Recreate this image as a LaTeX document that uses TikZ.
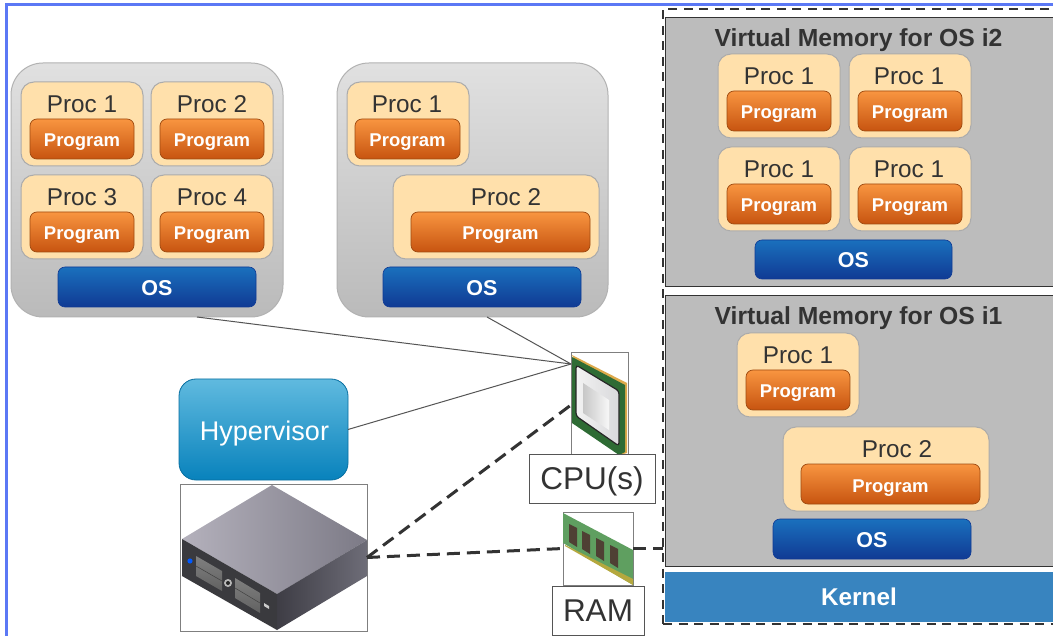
\documentclass[tikz,border=0pt]{standalone}
\usepackage{fontspec}
\setmainfont{Liberation Sans}
\usetikzlibrary{calc}
\definecolor{inkc}{HTML}{333333}
\definecolor{framec}{HTML}{7F7F7F}
\definecolor{edgec}{HTML}{555555}
\definecolor{procfill}{HTML}{FFE0AB}
\definecolor{progedge}{HTML}{9E4A10}
\definecolor{progtop}{HTML}{F89540}
\definecolor{progbot}{HTML}{C75410}
\definecolor{ostop}{HTML}{1A70BD}
\definecolor{osbot}{HTML}{103A94}
\definecolor{vmfill}{HTML}{BCBCBC}
\definecolor{kernelc}{HTML}{3884BF}
\definecolor{hyptop}{HTML}{60BADF}
\definecolor{hypbot}{HTML}{0882BC}
\definecolor{pageb}{HTML}{5B78F5}
\definecolor{srvtopa}{HTML}{B4B1BC}
\definecolor{srvtopb}{HTML}{7C7A86}
\definecolor{srvfront}{HTML}{3A3A3E}
\definecolor{srvsidea}{HTML}{3E3D45}
\definecolor{srvsideb}{HTML}{6E6D78}
\definecolor{cpugreen}{HTML}{2E6B34}
\definecolor{cpugold}{HTML}{DDA94A}
\definecolor{ramgreen}{HTML}{5F9F60}
\definecolor{ramgold}{HTML}{B5A83E}
\definecolor{ramchip}{HTML}{4F4034}
\tikzset{
 x=1pt,y=-1pt,
 boxb/.style={inner sep=0pt,outer sep=0pt,rounded corners=#1},
 boxb/.default=8pt,
 panelbox/.style={boxb=32pt,draw=black!30,line width=1pt,top color=black!12,bottom color=black!27},
 procbox/.style={boxb=13pt,draw=black!33,line width=1pt,fill=procfill},
 progbox/.style={boxb=7pt,draw=progedge,line width=.7pt,top color=progtop,bottom color=progbot,text=white,text height=16pt,text depth=0pt,font=\fontsize{18.5}{20}\selectfont\bfseries},
 osbox/.style={boxb=7pt,draw=osbot,line width=.6pt,top color=ostop,bottom color=osbot,text=white,text height=17pt,text depth=0pt,font=\fontsize{21.5}{23}\selectfont\bfseries},
 proclabel/.style={text=inkc,inner sep=0pt,font=\fontsize{24.3}{26}\selectfont},
 vmbox/.style={inner sep=0pt,outer sep=0pt,draw=inkc,line width=1pt,fill=vmfill},
 vmtitle/.style={text=inkc,inner sep=0pt,font=\fontsize{24.7}{27}\selectfont\bfseries},
 framebox/.style={inner sep=0pt,outer sep=0pt,draw=framec,line width=1pt},
 capbox/.style={framebox,draw=edgec,fill=white,text=inkc,text height=22pt,text depth=0pt,font=\fontsize{31.5}{33}\selectfont},
 thinlink/.style={draw=edgec,line width=1pt},
 dashlink/.style={draw=inkc,line width=3pt,dash pattern=on 13pt off 7pt},
 dashouter/.style={draw=inkc,line width=2.6pt,dash pattern=on 9pt off 6.5pt},
}
% box from corners: name, x1, y1, x2, y2, style, text
\newcommand{\cornerbox}[7]{\node[#6,minimum width={((#4)-(#2))*1pt},minimum height={((#5)-(#3))*1pt}] (#1) at ({((#2)+(#4))/2},{((#3)+(#5))/2}) {#7};}
% proc: name, x1, y1, x2, label-x, program-x1, text
\newcommand{\procunit}[7]{%
 \cornerbox{#1}{#2}{#3}{#4}{#3+84}{procbox}{}
 \node[proclabel] (#1l) at (#5,#3+22) {#7};
 \cornerbox{#1p}{#6}{#3+37}{#4-9}{#3+77}{progbox}{Program}
}
\begin{document}
\begin{tikzpicture}
\useasboundingbox (0,0) rectangle (1053,636);
\fill[white] (0,0) rectangle (1053,636);
\fill[pageb] (5,3) rectangle (1053,6);
\fill[pageb] (5,3) rectangle (8,636);

% left panels
\cornerbox{pa}{11}{63}{283}{317}{panelbox}{}
\procunit{pa1}{21}{82}{143}{82}{30}{Proc 1}
\procunit{pa2}{151}{82}{273}{212}{160}{Proc 2}
\procunit{pa3}{21}{175}{143}{82}{30}{Proc 3}
\procunit{pa4}{151}{175}{273}{212}{160}{Proc 4}
\cornerbox{paos}{58}{267}{256}{307}{osbox}{OS}

\cornerbox{pb}{337}{63}{608}{317}{panelbox}{}
\procunit{pb1}{347}{82}{469}{407}{355}{Proc 1}
\procunit{pb2}{393}{175}{599}{506}{411}{Proc 2}
\cornerbox{pbos}{383}{267}{581}{307}{osbox}{OS}

% right memory column
\cornerbox{vmb}{665}{18}{1056}{287}{vmbox}{}
\node[vmtitle] (vmbt) at (858.5,40) {Virtual Memory for OS i2};
\procunit{vb1}{718}{54}{840}{779}{727}{Proc 1}
\procunit{vb2}{849}{54}{971}{909}{858}{Proc 1}
\procunit{vb3}{718}{147}{840}{779}{727}{Proc 1}
\procunit{vb4}{849}{147}{971}{909}{858}{Proc 1}
\cornerbox{vbos}{755}{240}{952}{279}{osbox}{OS}

\cornerbox{vma}{665}{296}{1056}{566}{vmbox}{}
\node[vmtitle] (vmat) at (858.5,318) {Virtual Memory for OS i1};
\procunit{va1}{737}{333}{859}{798}{746}{Proc 1}
\procunit{va2}{783}{427}{989}{897}{801}{Proc 2}
\cornerbox{vaos}{773}{519}{971}{559}{osbox}{OS}

\cornerbox{kern}{665}{572}{1056}{622}{inner sep=0pt,outer sep=0pt,fill=kernelc}{}
\node[text=white,inner sep=0pt,font=\fontsize{24.3}{26}\selectfont\bfseries] (kernt) at (859,597) {Kernel};
\cornerbox{outer}{663}{9}{1060}{624}{dashouter,inner sep=0pt,outer sep=0pt}{}
\fill[white] (664.4,288.5) rectangle (1053,294.5);

% hypervisor and server
\cornerbox{hyp}{179}{379}{348}{480}{boxb=17pt,draw=hypbot!85!black,line width=.8pt,top color=hyptop,bottom color=hypbot,text=white,text height=21pt,text depth=0pt,font=\fontsize{27}{29}\selectfont}{\hspace*{2pt}Hypervisor}
\cornerbox{srv}{180}{484}{367}{631}{framebox}{}
\shade[left color=srvtopa,right color=srvtopb] (272,485) -- (367,540) -- (277,594) -- (182,539) -- cycle;
\fill[srvfront] (182,539) -- (277,594) -- (277,630) -- (182,576) -- cycle;
\shade[left color=srvsidea,right color=srvsideb] (277,594) -- (367,540) -- (367,576) -- (277,630) -- cycle;
\shade[top color=black!50,bottom color=black!62] (196,556) -- (222,571) -- (222,591) -- (196,576) -- cycle;
\shade[top color=black!50,bottom color=black!62] (235,578) -- (260,593) -- (260,613) -- (235,598) -- cycle;
\draw[black!75,line width=.5pt] (196,566) -- (222,581) (235,588) -- (260,603);
\fill[black!28] (228,583) circle (4);
\fill[black!85] (228,583) circle (2);
\fill[black!20] (264,603) -- (269,606) -- (269,609) -- (264,606) -- cycle;
\fill[blue!65!cyan] (190,561) circle (2.6);

% CPU
\cornerbox{cpu}{571}{353}{628}{457}{framebox}{}
\fill[cpugold] (572,355) -- (627,383) -- (627,453) -- (620,455) -- cycle;
\fill[cpugreen] (572,357) -- (625,385) -- (625,452) -- (619,455) -- (572,423) -- cycle;
\shade[rounded corners=3pt,left color=black!5,right color=blue!6!black!15,draw=black!85,line width=1.2pt] (576,365) -- (619,391) -- (619,446) -- (576,416) -- cycle;
\shade[left color=black!22,right color=black!3] (583,383) -- (609,400) -- (609,430) -- (583,413) -- cycle;

% RAM
\cornerbox{ram}{563}{512}{633}{585}{framebox}{}
\fill[ramgreen] (563,513) -- (633,550) -- (633,585) -- (563,543) -- cycle;
\fill[ramgold] (565,545) -- (633,579) -- (633,585) -- (565,546) -- cycle;
\fill[ramchip] (569,524) -- (577,528) -- (577,547) -- (569,542) -- cycle;
\fill[ramchip] (582,531) -- (590,535) -- (590,554) -- (582,549) -- cycle;
\fill[ramchip] (596,538) -- (604,542) -- (604,561) -- (596,556) -- cycle;
\fill[ramchip] (610,545) -- (618,549) -- (618,568) -- (610,563) -- cycle;

% captions
\cornerbox{cpucap}{529}{454}{655}{503}{capbox}{CPU(s)}
\cornerbox{ramcap}{552}{586}{644}{635}{capbox}{RAM}

% connectors
\draw[thinlink] ([xshift=50pt]pa.south) -- ([yshift=41pt]cpu.west);
\draw[thinlink] ([xshift=14.5pt]pb.south) -- ([yshift=41pt]cpu.west);
\draw[thinlink] (hyp.east) -- ([yshift=41pt]cpu.west);
\draw[dashlink] (srv.east) -- (cpu.west);
\draw[dashlink] (srv.east) -- (ram.west);
\draw[dashlink] (ram.east) -- (ram.east -| outer.west);
\end{tikzpicture}
\end{document}
